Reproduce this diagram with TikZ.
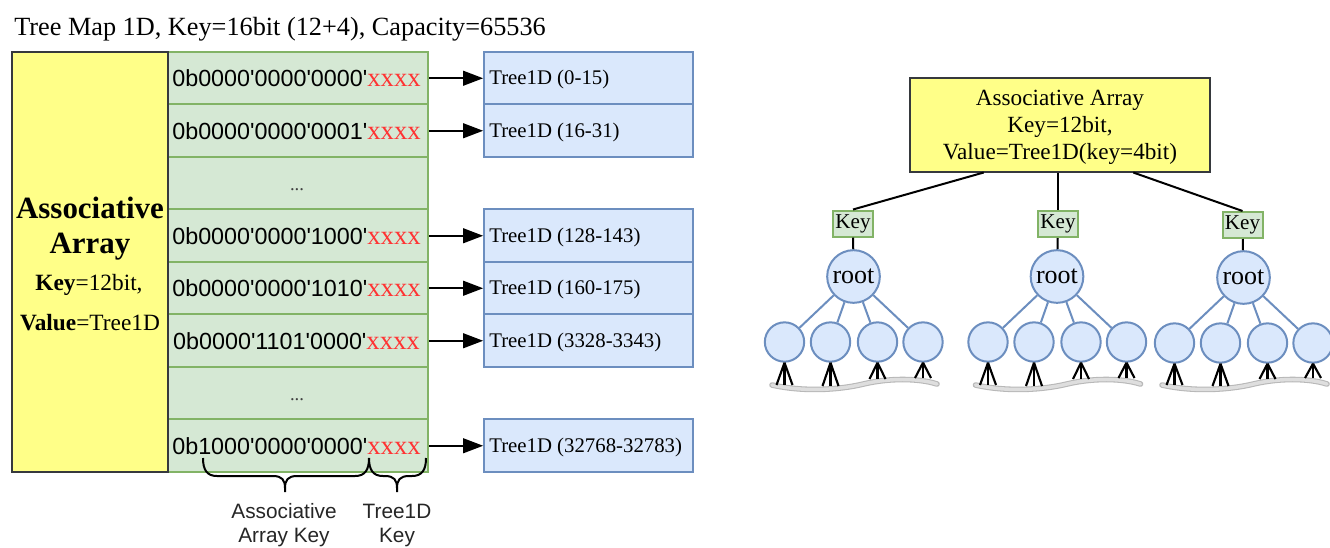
\documentclass[tikz,border=0pt]{standalone}
\usepackage{fontspec}
\setmainfont{Liberation Serif}
\newfontfamily\sansf{Liberation Sans}
\usetikzlibrary{arrows.meta,calc}
\definecolor{yfill}{HTML}{FFFF88}
\definecolor{ystroke}{HTML}{36393D}
\definecolor{gfill}{HTML}{D5E8D4}
\definecolor{gstroke}{HTML}{82B366}
\definecolor{bfill}{HTML}{DAE8FC}
\definecolor{bstroke}{HTML}{6C8EBF}
\definecolor{xred}{HTML}{FF3333}
\newcommand\ap{\textquotesingle}
\newcommand\bits[1]{{\sansf\fontsize{17.5}{19}\selectfont 0b#1\ap}{\color{xred}xxxx}}
\newcommand\mybrace[3]{%
  \draw[bracestyle] (#1,458) .. controls (#1,470) and (#1+4,476) .. (#1+14,476) -- (#3-12,476)
     .. controls (#3-3,476) and (#3,480) .. (#3,488) -- (#3,492);
  \draw[bracestyle] (#2,458) .. controls (#2,470) and (#2-4,476) .. (#2-14,476) -- (#3+12,476)
     .. controls (#3+3,476) and (#3,480) .. (#3,488);}
\begin{document}
\begin{tikzpicture}[x=0.75pt,y=-0.75pt,
  ybox/.style={draw=ystroke, fill=yfill, line width=1.5pt, inner sep=0},
  growbox/.style={draw=gstroke, fill=gfill, line width=1.5pt, minimum width=195pt, minimum height=39.4pt, inner sep=0},
  bluebox/.style={draw=bstroke, fill=bfill, line width=1.5pt, minimum width=156.5pt, minimum height=39.4pt, inner sep=0},
  arr/.style={line width=1.5pt, -{Triangle[length=15pt,width=11pt]}},
  bracestyle/.style={line width=1.5pt, black},
  txt/.style={inner sep=0, anchor=base},
  keybox/.style={draw=gstroke, fill=gfill, line width=1.5pt, minimum width=30pt, minimum height=19.5pt, inner sep=0, font=\fontsize{15.8}{16}\selectfont},
  rootc/.style={circle, draw=bstroke, fill=bfill, line width=1.5pt, minimum size=39.5pt, inner sep=0, font=\fontsize{19.5}{20}\selectfont},
  childc/.style={circle, draw=bstroke, fill=bfill, line width=1.5pt, minimum size=29.5pt, inner sep=0},
  blk/.style={line width=1.5pt, black},
  bedge/.style={line width=1.5pt, bstroke},
  fork/.style={line width=1.6pt, black},
  waveout/.style={line width=4.2pt, black!28, line cap=round},
  wavein/.style={line width=2.6pt, black!13, line cap=round}
]
\fill[white] (0,0) rectangle (1330,547);
\useasboundingbox (0,0) rectangle (1330,547);

% title
\node[txt, anchor=base west, font=\fontsize{19.7}{22}\selectfont] (title) at (14,35) {Tree Map 1D, Key=16bit (12+4), Capacity=65536};

% green rows
\foreach \i/\yc in {1/78.25,2/130.75,3/183.25,4/235.75,5/288.25,6/340.75,7/393.25,8/445.75}
  \node[growbox] (g\i) at (298,\yc) {};

\begin{scope}[font=\fontsize{20}{22}\selectfont]
\foreach \i/\yc/\code in {1/78.25/0000\ap0000\ap0000, 2/130.75/0000\ap0000\ap0001,
  4/235.75/0000\ap0000\ap1000, 5/288.25/0000\ap0000\ap1010, 6/340.75/0000\ap1101\ap0000,
  8/445.75/1000\ap0000\ap0000}
  \node[txt] (t\i) at (296.5,\yc+8.5) {\bits{\code}};
\end{scope}
\node[txt, font=\fontsize{14}{16}\selectfont, text=black!75] (t3) at (297,190) {...};
\node[txt, font=\fontsize{14}{16}\selectfont, text=black!75] (t7) at (297,400) {...};

% left yellow
\node[ybox, minimum width=116.5pt, minimum height=314.5pt] (la) at (90,262) {};
\node[txt, font=\fontsize{23.2}{26}\selectfont\bfseries] (la1) at (90,218) {Associative};
\node[txt, font=\fontsize{23.2}{26}\selectfont\bfseries] (la2) at (90,253) {Array};
\node[txt, font=\fontsize{17.5}{20}\selectfont] (la3) at (89,290) {\textbf{Key}=12bit,};
\node[txt, font=\fontsize{17.5}{20}\selectfont] (la4) at (90,330) {\textbf{Value}=Tree1D};

% blue boxes and arrows
\foreach \i/\yc/\lab in {1/78.25/0-15, 2/130.75/16-31, 4/235.75/128-143, 5/288.25/160-175, 6/340.75/3328-3343, 8/445.75/32768-32783} {
  \node[bluebox] (b\i) at (588.5,\yc) {};
  \node[txt, anchor=base west, font=\fontsize{15.6}{18}\selectfont] (bt\i) at (489,\yc+6.5) {Tree1D (\lab)};
  \draw[arr] (g\i.east) -- (b\i.west);
}

% braces
\mybrace{203}{369}{285}
\mybrace{369}{426}{397}
\begin{scope}[font=\sansf\fontsize{15.6}{18}\selectfont, text=black!85]
\node[txt] (l1a) at (284,518) {Associative};
\node[txt] (l1b) at (284,542) {Array Key};
\node[txt] (l2a) at (397,518) {Tree1D};
\node[txt] (l2b) at (397,542) {Key};
\end{scope}

% right diagram
\node[ybox, minimum width=225.5pt, minimum height=70.5pt] (aa) at (1060,124.5) {};
\node[align=center, inner sep=0, font=\fontsize{17.4}{20.25}\selectfont] (aat) at (1060,127.5) {Associative Array\\Key=12bit,\\Value=Tree1D(key=4bit)};

\foreach \i/\kx/\ky/\rx/\ry/\cy in {1/853/223.5/853.5/276.5/342, 2/1058/224/1057/276.5/342, 3/1242.5/225/1243.5/277.5/343} {
  \node[keybox] (k\i) at (\kx,\ky) {Key};
  \node[rootc] (r\i) at (\rx,\ry) {root};
  \draw[blk] (k\i) -- (r\i);
  \draw[waveout] (\rx-81.5,385) .. controls (\rx-50,392) and (\rx-15,390) .. (\rx+10,384) .. controls (\rx+35,378) and (\rx+65,378) .. (\rx+83.5,384);
  \draw[wavein] (\rx-81.5,385) .. controls (\rx-50,392) and (\rx-15,390) .. (\rx+10,384) .. controls (\rx+35,378) and (\rx+65,378) .. (\rx+83.5,384);
  \foreach \j/\dx/\fy in {1/-69/385, 2/-23/386, 3/24/379, 4/69.5/378} {
    \node[childc] (c\i-\j) at (\rx+\dx,\cy) {};
    \draw[bedge] (r\i) -- (c\i-\j);
    \draw[fork] (c\i-\j.south) -- (\rx+\dx-8,\fy);
    \draw[fork] (c\i-\j.south) -- (\rx+\dx,\fy);
    \draw[fork] (c\i-\j.south) -- (\rx+\dx+8,\fy);
  }
}
\draw[blk] ($(aa.south west)!0.248!(aa.south east)$) -- (k1.north);
\draw[blk] (aa.south -| k2.north) -- (k2.north);
\draw[blk] ($(aa.south west)!0.742!(aa.south east)$) -- (k3.north);
\end{tikzpicture}
\end{document}
